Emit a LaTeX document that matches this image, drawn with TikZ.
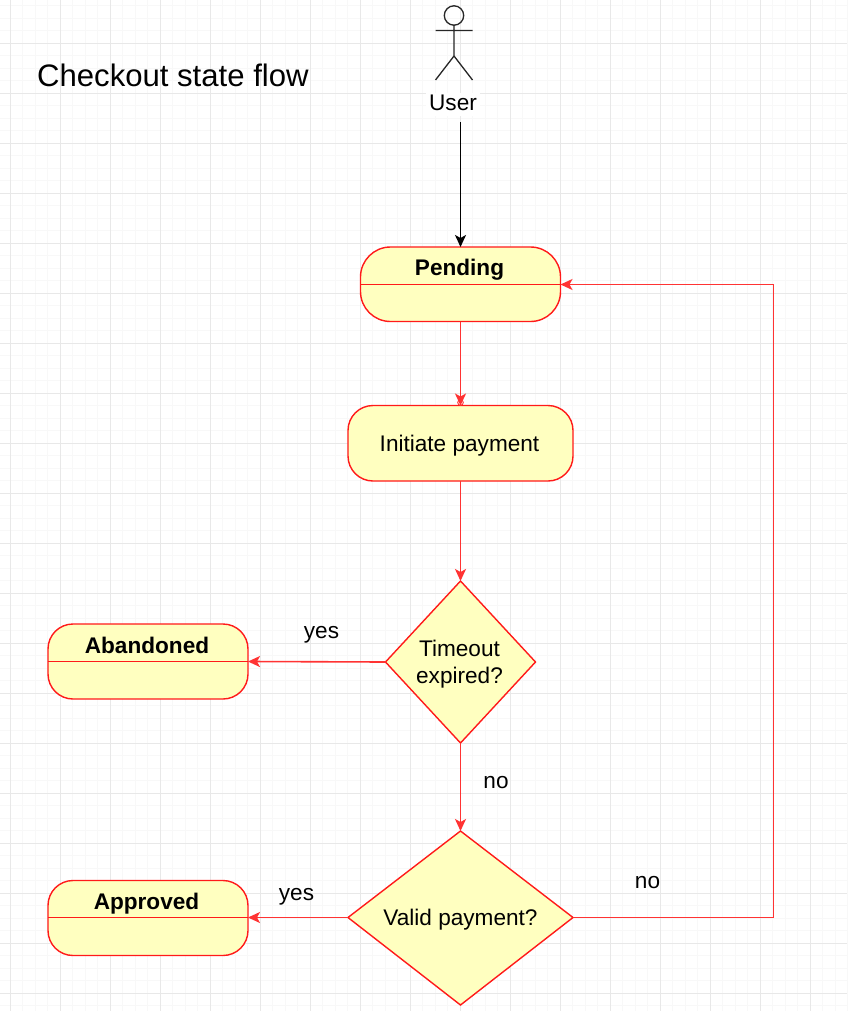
\documentclass[tikz,border=0pt]{standalone}
\usepackage{fontspec}
\setmainfont{Liberation Sans}
\usetikzlibrary{arrows.meta,shapes.geometric}
\definecolor{edgered}{HTML}{FF3333}
\definecolor{linered}{HTML}{FF1A1A}
\definecolor{fillyellow}{HTML}{FFFFC0}
\definecolor{gridmajor}{HTML}{E8E8E8}
\definecolor{gridminor}{HTML}{F8F8F8}
\tikzset{
  x=1pt,y=-1pt,
  every node/.style={font=\fontsize{22.6}{27}\selectfont,inner sep=0pt,text=black,text height=16pt,text depth=5pt},
  statebox/.style={draw=linered,fill=fillyellow,line width=1.4pt,rounded corners=#1},
  statebox/.default=30,
  choice/.style={draw=linered,fill=fillyellow,line width=1.4pt,line join=miter},
  divider/.style={draw=linered,line width=1.6pt},
  flow/.style={draw=edgered,line width=1.6pt,-{Stealth[length=12pt,width=11pt,inset=3pt]}},
  userflow/.style={draw=black,line width=1.6pt,-{Stealth[length=12pt,width=11pt,inset=3pt]}},
  actorline/.style={draw=black!85,line width=1.3pt},
  title/.style={font=\bfseries\fontsize{22.6}{27}\selectfont}
}
\begin{document}
\begin{tikzpicture}
\useasboundingbox (0,0) rectangle (847,1011);
\fill[white] (0,0) rectangle (847,1011);
% grid
\foreach \i in {0,...,68} {\draw[gridminor,line width=1pt] ({floor(-2.5+12.5*\i)+0.5},0) -- ({floor(-2.5+12.5*\i)+0.5},1011);}
\foreach \i in {0,...,81} {\draw[gridminor,line width=1pt] (0,{floor(-7+12.5*\i)+0.5}) -- (847,{floor(-7+12.5*\i)+0.5});}
\foreach \i in {0,...,17} {\draw[gridmajor,line width=1pt] ({10.5+50*\i},0) -- ({10.5+50*\i},1011);}
\foreach \i in {0,...,20} {\draw[gridmajor,line width=1pt] (0,{43.5+50*\i}) -- (847,{43.5+50*\i});}
% title
\node[anchor=west,font=\fontsize{31.1}{36}\selectfont,text height=22pt,text depth=6.5pt] (heading) at (37,78.5) {Checkout state flow};
% actor
\draw[actorline] (454,15.5) circle (9.7);
\draw[actorline] (454,25) -- (454,56) (435.5,30.5) -- (472.5,30.5) (435.5,80) -- (454,56) -- (472.5,80);
\node[fill=white,inner xsep=3pt,inner ysep=1pt] (user) at (453,105) {User};
\coordinate (userout) at (460.5,122);
% states
\path[statebox] (360.5,247) rectangle (560.5,321.5);
\coordinate (pendingtop) at (460.5,247);
\coordinate (pendingbottom) at (460.5,321.5);
\coordinate (pendingright) at (560.5,284.5);
\draw[divider] (360.5,284.5) -- (560.5,284.5);
\node[title] (pending) at (459.5,269.5) {Pending};
\path[statebox=25] (348,405.5) rectangle (573,481);
\node (initiate) at (459.5,445.5) {Initiate payment};
\coordinate (inittop) at (460.5,405.5);
\coordinate (initbottom) at (460.5,481);
\path[statebox=25] (48,624) rectangle (248,699);
\draw[divider] (48,661.5) -- (248,661.5);
\node[title] (abandoned) at (147,647.5) {Abandoned};
\coordinate (abandonedright) at (248,661.5);
\path[statebox=25] (48,880.5) rectangle (248,955.5);
\draw[divider] (48,917.5) -- (248,917.5);
\node[title] (approved) at (146.5,903.5) {Approved};
\coordinate (approvedright) at (248,917.5);
% diamonds
\path[choice] (460.5,581) coordinate (ttop) -- (535.5,662) coordinate (tright) -- (460.5,743) coordinate (tbottom) -- (385.5,662) coordinate (tleft) -- cycle;
\node[align=center,text height=,text depth=] (timeout) at (459.5,664) {Timeout\\expired?};
\path[choice] (460.5,831) coordinate (vtop) -- (573,917.5) coordinate (vright) -- (460.5,1005) coordinate (vbottom) -- (348,917.5) coordinate (vleft) -- cycle;
\node (valid) at (460.5,919.5) {Valid payment?};
% connectors
\draw[userflow] (userout) -- (pendingtop);
\draw[edgered,line width=0.9pt] (460.5,402.5) circle (2.8);
\draw[flow] (pendingbottom) -- (inittop);
\draw[flow] (initbottom) -- (ttop);
\draw[flow] (tleft) -- (abandonedright);
\draw[flow] (tbottom) -- (vtop);
\draw[flow] (vleft) -- (approvedright);
\draw[flow] (vright) -- (773.5,917.5) -- (773.5,284.5) -- (pendingright);
% labels
\node (yesa) at (321.5,633) {yes};
\node (noa) at (496,783) {no};
\node (yesb) at (296.5,895) {yes};
\node (nob) at (647.5,883) {no};
\end{tikzpicture}
\end{document}
